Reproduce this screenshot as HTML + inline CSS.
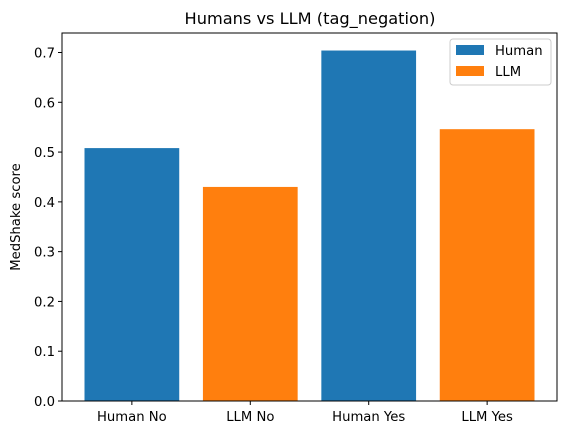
<!DOCTYPE html>
<html><head><meta charset="utf-8"><style>
body{margin:0;background:#fff;}
svg{display:block;font-family:"DejaVu Sans","Liberation Sans",sans-serif;}
</style></head><body>
<svg id="chart" width="567" height="435">
<rect width="567" height="435" fill="#fff"/>
<text x="310" y="24" font-size="16.2" text-anchor="middle">Humans vs LLM (tag_negation)</text>
<g id="bars"></g>
<g id="yaxis"></g>
<g id="xaxis"></g>
<rect x="62" y="33" width="495" height="368" fill="none" stroke="#000" stroke-width="1"/>
<text transform="translate(20,217) rotate(-90)" font-size="13.2" text-anchor="middle">MedShake score</text>
<g>
<rect x="450" y="39" width="101" height="46" rx="3" fill="#fff" stroke="#ccc"/>
<rect x="456" y="45" width="28" height="10" fill="#1f77b4"/>
<text x="495" y="55" font-size="13.2">Human</text>
<rect x="456" y="66" width="28" height="10" fill="#ff7f0e"/>
<text x="495" y="76" font-size="13.2">LLM</text>
</g>
</svg>
<script>
const categories=["Human No","LLM No","Human Yes","LLM Yes"];
const values=[0.508,0.430,0.704,0.546];
const seriesOf=["Human","LLM","Human","LLM"];
const yTicks=[0,0.1,0.2,0.3,0.4,0.5,0.6,0.7];
const colors={Human:"#1f77b4",LLM:"#ff7f0e"};
const L=62,R=557,T=33,B=401;
const xmin=-0.59,xmax=categories.length-1+0.59;
const ymax=0.7392;
const x=v=>L+(v-xmin)/(xmax-xmin)*(R-L);
const y=v=>B-v/ymax*(B-T);
const NS="http://www.w3.org/2000/svg";
const bars=document.getElementById('bars'),ya=document.getElementById('yaxis'),xa=document.getElementById('xaxis');
function mk(tag,attrs,parent){const e=document.createElementNS(NS,tag);for(const k in attrs)e.setAttribute(k,attrs[k]);parent.appendChild(e);return e;}
categories.forEach((c,i)=>{
 const r=mk('rect',{x:x(i-0.4),y:y(values[i]),width:x(i+0.4)-x(i-0.4),height:y(0)-y(values[i]),fill:colors[seriesOf[i]]},bars);
 
 
 const t=mk('line',{x1:x(i),x2:x(i),y1:B,y2:B+4,stroke:'#000'},xa);
 
 
 const l=mk('text',{x:x(i),y:B+20,'font-size':13.2,'text-anchor':'middle'},xa);
 l.textContent=c;
 
 
});
yTicks.forEach(v=>{
 const t=mk('line',{x1:L-4,x2:L,y1:y(v),y2:y(v),stroke:'#000'},ya);
 
 
 const l=mk('text',{x:L-7,y:y(v)+5,'font-size':13.2,'text-anchor':'end'},ya);
 l.textContent=v.toFixed(1);
 
 
});
</script>
</body></html>
